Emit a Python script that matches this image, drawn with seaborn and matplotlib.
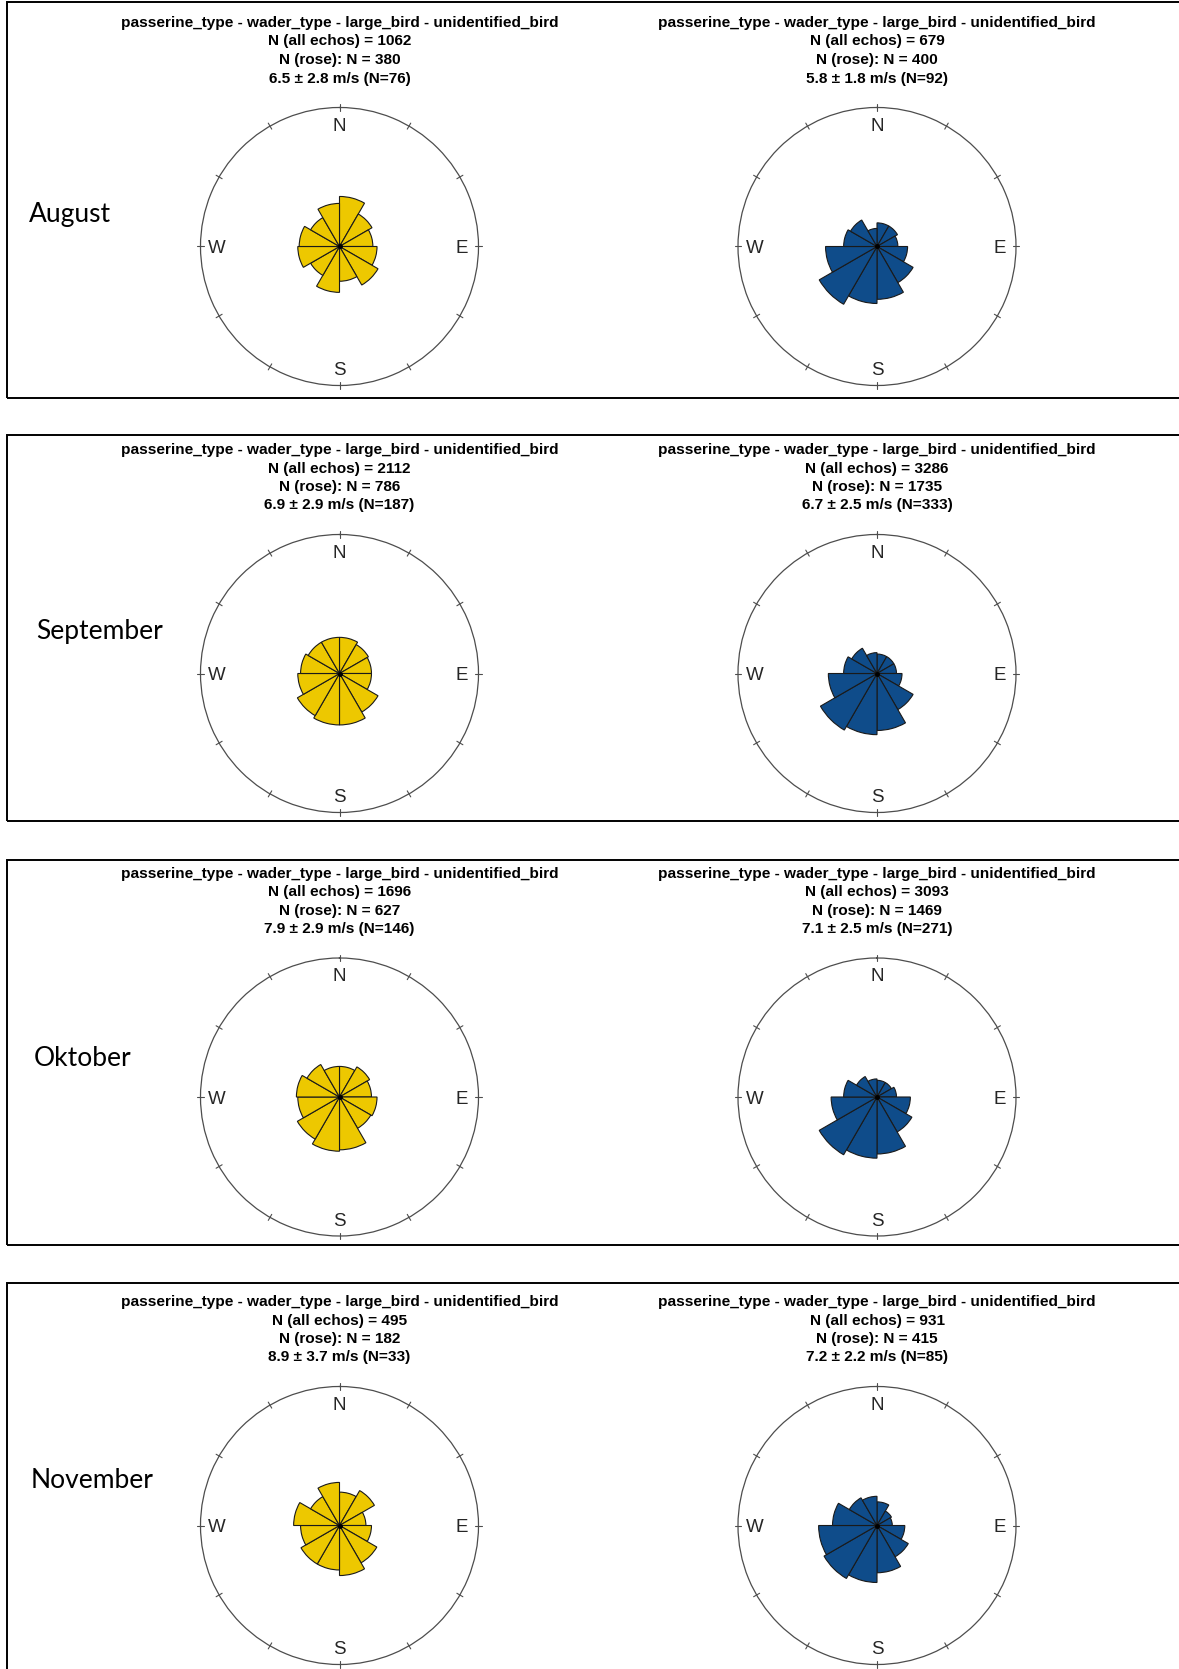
import numpy as np
import pandas as pd
import matplotlib
matplotlib.use("Agg")
import matplotlib.pyplot as plt
import seaborn as sns
from matplotlib.patches import Rectangle

# Monate und Kopfzeilen-Werte (links / rechts)
months = ["August", "September", "Oktober", "November"]
title_line = "passerine_type - wader_type - large_bird - unidentified_bird"
n_all = [[1062, 679], [2112, 3286], [1696, 3093], [495, 931]]
n_rose = [[380, 400], [786, 1735], [627, 1469], [182, 415]]
speed_mean = [[6.5, 5.8], [6.9, 6.7], [7.9, 7.1], [8.9, 7.2]]
speed_sd = [[2.8, 1.8], [2.9, 2.5], [2.9, 2.5], [3.7, 2.2]]
speed_n = [[76, 92], [187, 333], [146, 271], [33, 85]]

# Sektoren 0-30, 30-60, ... 330-360 Grad (Länge in % des Außenkreises)
sector_start = np.arange(0, 360, 30)
aug_left = [36, 27, 24, 27, 32, 25, 33, 24, 30, 29, 24, 31]
aug_right = [17, 17, 15, 22, 30, 38, 41, 48, 37, 24, 22, 13]
sep_left = [26, 24, 23, 23, 32, 37, 37, 35, 30, 28, 26, 26]
sep_right = [14, 14, 14, 18, 30, 41, 44, 47, 35, 24, 21, 15]
okt_left = [22, 25, 23, 27, 26, 38, 39, 35, 30, 31, 27, 22]
okt_right = [12, 12, 14, 24, 29, 41, 44, 48, 33, 24, 17, 13]
nov_left = [24, 29, 19, 23, 31, 36, 32, 32, 28, 33, 24, 31]
nov_right = [17, 12, 11, 20, 26, 34, 41, 44, 42, 32, 23, 21]

roses = [[aug_left, aug_right], [sep_left, sep_right],
         [okt_left, okt_right], [nov_left, nov_right]]
colors = ["#EDC800", "#0F4C8A"]

sns.set_theme(style="white")
plt.rcParams['font.family'] = ['Liberation Sans', 'DejaVu Sans']

W, H = 1179, 1669
fig = plt.figure(figsize=(W / 100, H / 100), dpi=100)

# Layout in Pixeln
centers_x = [339.5, 877]
centers_y = [246.5, 673.5, 1097, 1525.5]
R = 139
boxes = [(2, 398), (435, 821), (860, 1245), (1283, 1690)]
label_pos = [(29, 212), (36, 629), (34, 1056), (31, 1478)]
title_off = [-225, -206.5, -188, -169.5]

for top, bottom in boxes:
    fig.add_artist(Rectangle((6.5 / W, 1 - bottom / H), 1.2, (bottom - top) / H,
                             transform=fig.transFigure, fill=False,
                             ec="black", lw=1.4, clip_on=False))

for i, month in enumerate(months):
    lx, ly = label_pos[i]
    fig.text(lx / W, 1 - ly / H, month, fontsize=19, family=["Lato", "DejaVu Sans"],
             ha="left", va="center_baseline", color="black")
    for j in range(2):
        cx, cy = centers_x[j], centers_y[i]
        lines = [title_line,
                 f"N (all echos) = {n_all[i][j]}",
                 f"N (rose): N = {n_rose[i][j]}",
                 f"{speed_mean[i][j]} \u00b1 {speed_sd[i][j]} m/s (N={speed_n[i][j]})"]
        for k, txt in enumerate(lines):
            fig.text(cx / W, 1 - (cy + title_off[k]) / H, txt, fontsize=11.1,
                     fontweight="bold", ha="center", va="center_baseline",
                     color="black")

        ax = fig.add_axes([(cx - R) / W, 1 - (cy + R) / H, 2 * R / W, 2 * R / H],
                          projection="polar")
        df = pd.DataFrame({"theta": np.deg2rad(sector_start + 15),
                           "r": roses[i][j]})
        sns.barplot(data=df, x="theta", y="r", native_scale=True, width=1.0,
                    color=colors[j], saturation=1, edgecolor="#1a1a1a",
                    linewidth=0.8, errorbar=None, ax=ax)
        ax.set_theta_zero_location("N")
        ax.set_theta_direction(-1)
        ax.set_ylim(0, 100)
        ax.set_xlim(0, 2 * np.pi)
        ax.set_xticks([])
        ax.set_yticks([])
        ax.set_xlabel("")
        ax.set_ylabel("")
        ax.grid(False)
        ax.spines["polar"].set_color("#4d4d4d")
        ax.spines["polar"].set_linewidth(0.9)
        # Tickmarks auf dem Kreis
        for a in np.deg2rad(np.arange(0, 360, 30)):
            ax.plot([a, a], [97.5, 102.5], color="#4d4d4d", lw=0.8, clip_on=False)
        ax.plot([0], [0], "o", color="black", ms=2.5)
        for lab, a in zip(["N", "E", "S", "W"], [0, 90, 180, 270]):
            ax.text(np.deg2rad(a), 88, lab, fontsize=13.5, ha="center",
                    va="center_baseline")

fig.savefig("out.png", dpi=100)
